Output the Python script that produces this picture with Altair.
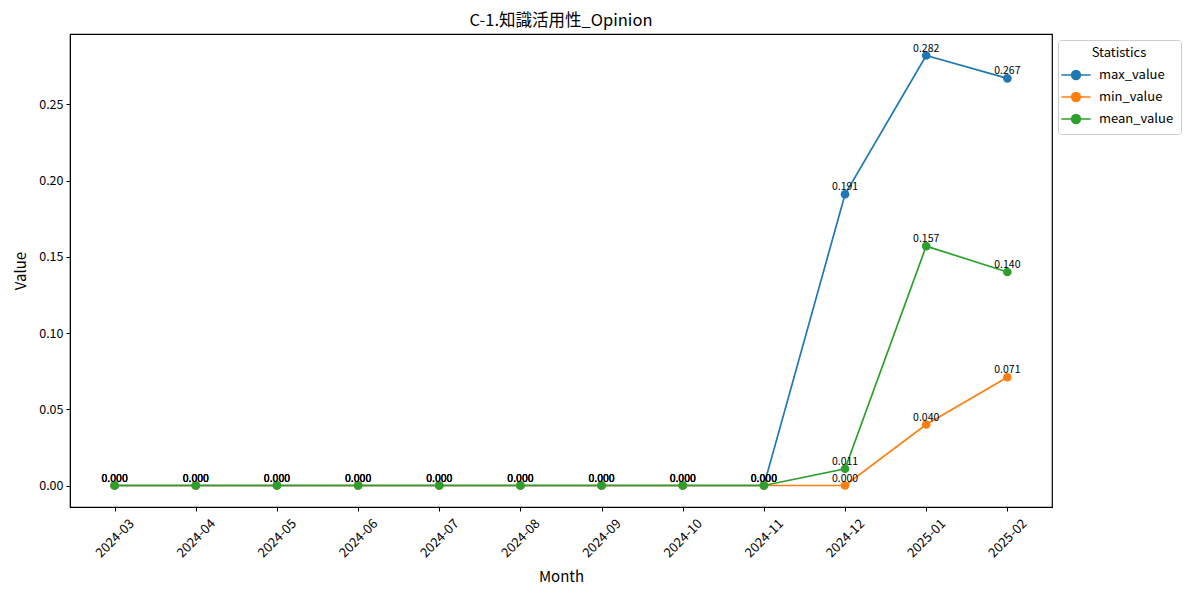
import altair as alt
import pandas as pd

months = ["2024-03", "2024-04", "2024-05", "2024-06", "2024-07", "2024-08",
          "2024-09", "2024-10", "2024-11", "2024-12", "2025-01", "2025-02"]
max_value = [0, 0, 0, 0, 0, 0, 0, 0, 0, 0.191, 0.282, 0.267]
min_value = [0, 0, 0, 0, 0, 0, 0, 0, 0, 0.000, 0.040, 0.071]
mean_value = [0, 0, 0, 0, 0, 0, 0, 0, 0, 0.011, 0.157, 0.140]
series = ["max_value", "min_value", "mean_value"]
colors = ["#1f77b4", "#ff7f0e", "#2ca02c"]

rows = []
for s, vals in zip(series, [max_value, min_value, mean_value]):
    for i, (m, v) in enumerate(zip(months, vals)):
        rows.append({"Month": m, "Statistics": s, "Value": v,
                     "order": series.index(s), "label": f"{v:.3f}"})
df = pd.DataFrame(rows)

FONT = "Noto Sans CJK JP"
sym_path = ("M-1.5,0L1.5,0M0.45,0A0.45,0.45,0,1,1,-0.45,0"
            "A0.45,0.45,0,1,1,0.45,0Z")

x = alt.X("Month:O", title="Month",
          scale=alt.Scale(type="point", padding=0.55),
          axis=alt.Axis(labelAngle=-45, labelAlign="center", labelBaseline="middle",
                        labelPadding=27, tickSize=4, tickColor="black",
                        domainColor="black", labelColor="black", labelFontSize=13,
                        titleFontSize=15, titleFontWeight="normal", titlePadding=10,
                        titleColor="black", grid=False))
y = alt.Y("Value:Q", title="Value",
          scale=alt.Scale(domain=[-0.0141, 0.2961], nice=False, zero=False),
          axis=alt.Axis(values=[0, 0.05, 0.10, 0.15, 0.20, 0.25], format=".2f",
                        tickSize=4, tickColor="black", domainColor="black",
                        labelColor="black", labelFontSize=12.5, labelPadding=3,
                        titleFontSize=15, titleFontWeight="normal", titlePadding=10,
                        titleColor="black", grid=False))
color = alt.Color("Statistics:N",
                  scale=alt.Scale(domain=series, range=colors),
                  legend=alt.Legend(title="Statistics", orient="none",
                                    legendX=988, legendY=6,
                                    symbolType=sym_path, symbolSize=380,
                                    symbolStrokeWidth=1.6, labelOffset=12,
                                    titleFontSize=13, titleFontWeight="normal",
                                    titleAnchor="middle", labelFontSize=13,
                                    labelColor="black", titleColor="black",
                                    padding=7, rowPadding=3, titlePadding=4,
                                    strokeColor="#cccccc", fillColor="white",
                                    cornerRadius=3))

base = alt.Chart(df)
lines = base.mark_line(strokeWidth=1.7).encode(x=x, y=y, color=color,
                                                detail="Statistics:N",
                                                order="order:Q")
points = base.mark_point(filled=True, size=75, opacity=1).encode(
    x=x, y=y, color=color, order="order:Q")
labels = base.mark_text(dy=-7, fontSize=10.5, color="black", font=FONT).encode(
    x=x, y=y, text="label:N", order="order:Q")

chart = alt.layer(
    lines.transform_filter("datum.Statistics=='max_value'"),
    points.transform_filter("datum.Statistics=='max_value'"),
    labels.transform_filter("datum.Statistics=='max_value'"),
    lines.transform_filter("datum.Statistics=='min_value'"),
    points.transform_filter("datum.Statistics=='min_value'"),
    labels.transform_filter("datum.Statistics=='min_value'"),
    lines.transform_filter("datum.Statistics=='mean_value'"),
    points.transform_filter("datum.Statistics=='mean_value'"),
    labels.transform_filter("datum.Statistics=='mean_value'"),
).properties(
    width=982, height=473,
    title=alt.Title("C-1.知識活用性_Opinion", fontSize=16.5, fontWeight="normal",
                    color="black", offset=5),
    autosize=alt.AutoSizeParams(type="none"),
    padding={"left": 62, "top": 26, "right": 140, "bottom": 80},
).configure(font=FONT).configure_view(stroke="black", strokeWidth=1.2)

chart.save("out.html", embed_options={"renderer": "svg", "actions": False})
